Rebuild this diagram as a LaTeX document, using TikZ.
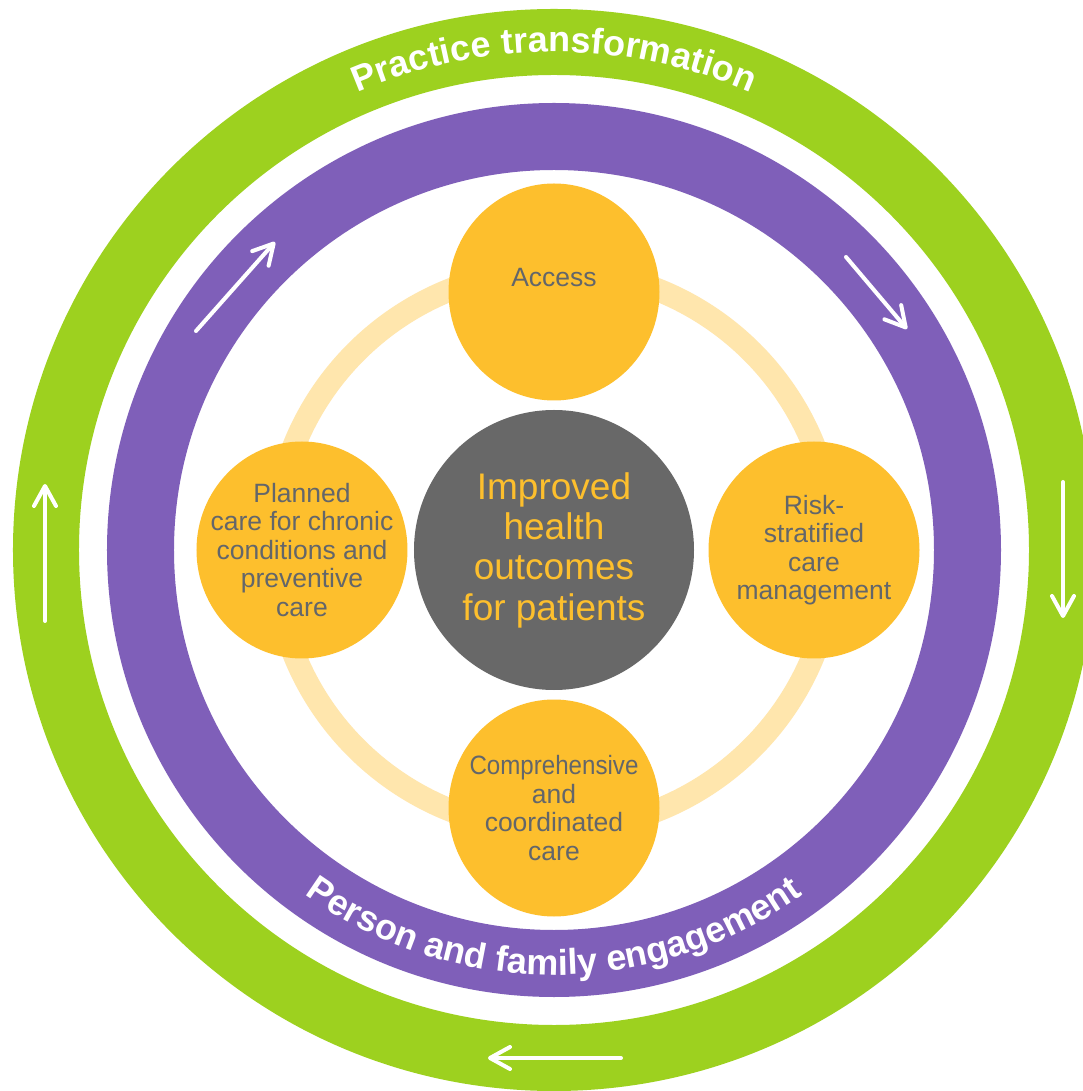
\documentclass[tikz,border=0pt]{standalone}
\usepackage{fontspec}
\setmainfont{Liberation Sans}
\usepackage{xcolor}
\usepackage{tikz}
\usetikzlibrary{shapes,arrows.meta,positioning,calc,decorations.text}

\definecolor{ringgreen}{HTML}{9DD11F}
\definecolor{ringpurple}{HTML}{7F5FB9}
\definecolor{ringcream}{HTML}{FFE6AD}
\definecolor{pillaryellow}{HTML}{FDBF2D}
\definecolor{hubgray}{HTML}{686868}
\definecolor{labelgray}{HTML}{63666A}

\begin{document}
\begin{tikzpicture}[x=1pt, y=1pt,
    pillar/.style={ellipse, fill=pillaryellow, minimum width=211pt, minimum height=217pt, inner sep=0pt},
    pillartext/.style={inner sep=0pt, align=center, text=labelgray, font=\fontsize{26.5}{28.5}\selectfont},
    hub/.style={circle, fill=hubgray, minimum size=280pt, inner sep=0pt, align=center, text=pillaryellow, font=\fontsize{37}{40.3}\selectfont},
    turn/.style={white, line width=4pt, line cap=round, -{Straight Barb[length=20pt, width=22pt, round]}},
    ringtext/.style={decorate, decoration={text along path, text align=center, text color=white, text={|\fontsize{36}{40}\selectfont\bfseries|#1}}}]
    \useasboundingbox (-554,-541) rectangle (528,550);
    \fill[white] (-554,-541) rectangle (528,550);

    % Rings
    \draw[ringgreen, line width=66pt] (0,0) circle (508);
    \draw[ringpurple, line width=67pt] (0,0) circle (413.5);
    \draw[ringcream, line width=23pt] (0,0) circle (280);

    % Ring labels
    \path[ringtext=Practice transformation] (150:498) arc[start angle=150, end angle=30, radius=498];
    \path[ringtext=Person and family engagement] (210:425) arc[start angle=210, end angle=330, radius=425];

    % Hub and pillars
    \node[hub] (outcomes) at (0,0) {Improved\\health\\outcomes\\for patients};
    \node[pillar] (access) at (0,258) {};
    \node[pillar] (planned) at (-252,0) {};
    \node[pillar] (risk) at (260,0) {};
    \node[pillar] (coordinated) at (0,-258) {};

    \node[pillartext] (access-text) at (access) {Access\\\mbox{}};
    \node[pillartext] (planned-text) at (planned) {Planned\\care for chronic\\conditions and\\preventive\\care};
    \node[pillartext] (risk-text) at (risk) {Risk-\\stratified\\care\\management};
    \node[pillartext] (coordinated-text) at (coordinated) {\scalebox{0.91}[1]{Comprehensive}\\and\\coordinated\\care};

    % Direction arrows
    \draw[turn] (-358,219) -- (-279,308);
    \draw[turn] (292,293) -- (353,221);
    \draw[turn] (509,68) -- (509,-68);
    \draw[turn] (67,-508) -- (-66,-508);
    \draw[turn] (-509,-71) -- (-509,66);
\end{tikzpicture}
\end{document}
